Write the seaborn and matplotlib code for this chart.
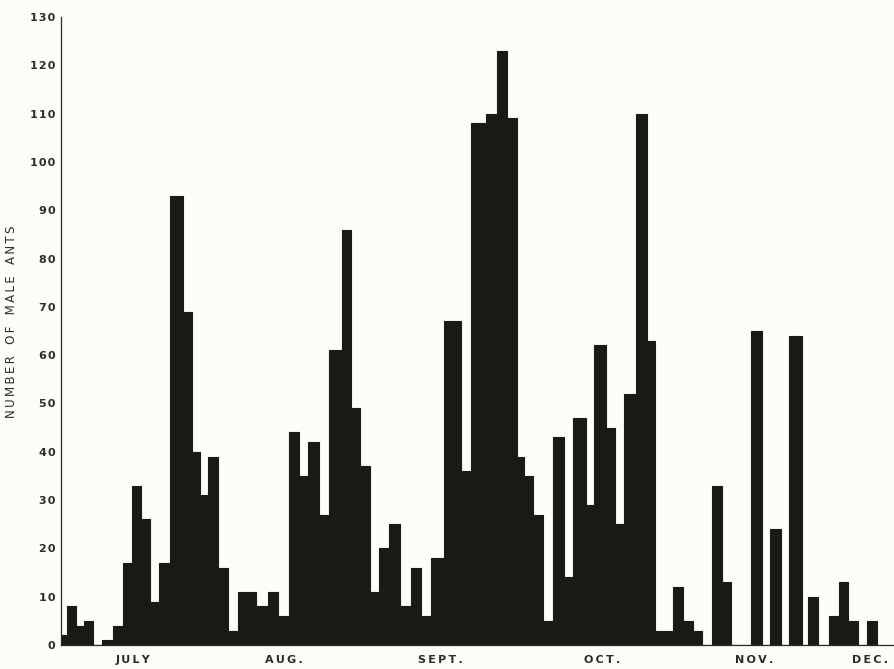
import numpy as np
import pandas as pd
import matplotlib
matplotlib.use('Agg')
import matplotlib.pyplot as plt
import seaborn as sns

# sampling intervals, in days after 1 July (edges)
day_edges = [1.8, 2.9, 4.8, 6.4, 8.1, 10.0, 12.1, 14.0, 15.9, 17.6,
             19.4, 21.2, 23.4, 26.0, 27.7, 29.3, 31.0, 32.9, 34.9, 36.9,
             40.5, 42.8, 44.8, 47.0, 49.0, 50.8, 52.9, 54.9, 57.4, 59.3,
             61.0, 63.0, 64.8, 66.8, 68.9, 71.1, 73.0, 75.0, 77.7, 81.1,
             83.0, 85.9, 88.1, 90.2, 92.0, 93.5, 95.2, 97.2, 99.2, 101.4,
             103.2, 105.7, 107.3, 109.7, 111.5, 113.3, 115.6, 117.8, 119.4, 123.0,
             125.0, 127.0, 128.8, 130.8, 132.7, 134.5, 138.4, 140.7, 142.2, 144.3,
             146.0, 148.5, 149.8, 151.7, 153.8, 155.8, 157.7, 159.6, 161.4, 163.3]

# number of male ants caught in each interval
male_ants = [2, 8, 4, 5, 0, 1, 4, 17, 33, 26,
             9, 17, 93, 69, 40, 31, 39, 16, 3, 11,
             8, 11, 6, 44, 35, 42, 27, 61, 86, 49,
             37, 11, 20, 25, 8, 16, 6, 18, 67, 36,
             108, 110, 123, 109, 39, 35, 27, 5, 43, 14,
             47, 29, 62, 45, 25, 52, 110, 63, 3, 12,
             5, 3, 0, 33, 13, 0, 65, 0, 24, 0,
             64, 0, 10, 0, 6, 13, 5, 0, 5]

month_starts = [31, 62, 92, 123, 153]
month_names = ['JULY', 'AUG.', 'SEPT.', 'OCT.', 'NOV.', 'DEC.']
month_label_days = [16, 46, 77, 109, 139, 162]
y_ticks = list(range(0, 131, 10))
y_title = 'NUMBER OF MALE ANTS'


def spaced(text, gap='\u2009'):
    # printed figure uses wide letter spacing
    return '   '.join(gap.join(w) for w in text.split(' '))


edges = np.array(day_edges)
df = pd.DataFrame({'day': (edges[:-1] + edges[1:]) / 2, 'count': male_ants})

sns.set_style('white')
plt.rcParams['font.family'] = ['DejaVu Sans']

bg = '#fdfdf8'
ink = '#1b1913'

fig = plt.figure(figsize=(8.95, 6.69), dpi=100, facecolor=bg)
ax = fig.add_axes([61 / 895, 24 / 669, 834 / 895, 628 / 669])
ax.set_facecolor(bg)

sns.histplot(data=df, x='day', weights='count', bins=day_edges, ax=ax,
             color=ink, alpha=1, edgecolor=ink, linewidth=0.8)

ax.set_xlim(1.8, 166.95)
ax.set_ylim(0, 130)

for s in ['top', 'right']:
    ax.spines[s].set_visible(False)
for s in ['left', 'bottom']:
    ax.spines[s].set_linewidth(0.9)
    ax.spines[s].set_color('#2a2a2a')

ax.set_yticks(y_ticks)
ax.set_yticklabels([spaced(str(v), '\u200a') for v in y_ticks], fontsize=8,
                   fontweight='bold', color='#2b2b2b')
ax.tick_params(axis='y', direction='out', length=3, width=0.8, pad=1, color='#2a2a2a')

ax.set_xticks(month_starts)
ax.set_xticklabels([''] * len(month_starts))
ax.tick_params(axis='x', which='major', direction='out', length=3, width=0.8, color='#2a2a2a')
ax.set_xticks(month_label_days, minor=True)
ax.set_xticklabels([spaced(m) for m in month_names], minor=True, fontsize=8,
                   fontweight='bold', color='#2b2b2b')
ax.tick_params(axis='x', which='minor', length=0, pad=7)

ax.set_xlabel('')
ax.set_ylabel(spaced(y_title), fontsize=8.5, color='#2b2b2b')
ax.yaxis.set_label_coords(-43 / 834, 0.514)

fig.savefig('out.png', dpi=100, facecolor=bg)
